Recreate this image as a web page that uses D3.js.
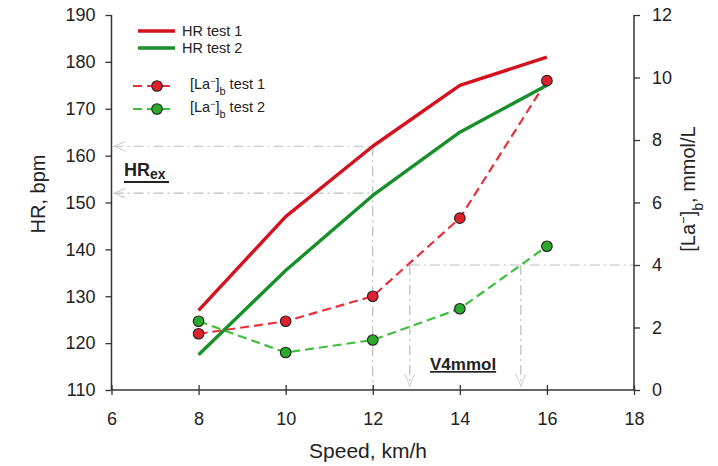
<!DOCTYPE html>
<html>
<head>
<meta charset="utf-8">
<script src="https://cdn.jsdelivr.net/npm/d3@7"></script>
<style>
  html, body { margin: 0; padding: 0; background: #fff; }
  svg { display: block; font-family: "Liberation Sans", Arial, sans-serif; }
</style>
</head>
<body>
<svg id="chart" width="718" height="466"></svg>
<script>
// Running speeds (km/h)
const speeds = [8, 10, 12, 14, 16];
// Heart rate (bpm)
const hrTest1 = [127, 147, 162, 175, 181];
const hrTest2 = [117.5, 135.5, 151.5, 165, 175];
// Blood lactate (mmol/L)
const laTest1 = [1.8, 2.2, 3.0, 5.5, 9.9];
const laTest2 = [2.2, 1.2, 1.6, 2.6, 4.6];
// Axis ticks
const xTicks = [6, 8, 10, 12, 14, 16, 18];
const hrTicks = [110, 120, 130, 140, 150, 160, 170, 180, 190];
const laTicks = [0, 2, 4, 6, 8, 10, 12];
// Reference markers
const hrExLevels = [162, 152];
const hrExSpeed = 12;
const v4Level = 4;
const v4Speeds = [12.85, 15.4];

const svg = d3.select("#chart");
const L = 111.5, R = 634, T = 15, B = 390;

const x = d3.scaleLinear().domain([6, 18]).range([L, R]);
const yHR = d3.scaleLinear().domain([110, 190]).range([B, T]);
const yLa = d3.scaleLinear().domain([0, 12]).range([B, T]);

const axisColor = "#333";
const tickFont = 18;

// Reference guide lines (grey dash-dot)
const guide = svg.append("g").attr("stroke", "#bdbdbd").attr("stroke-width", 1.2).attr("fill", "none");
hrExLevels.forEach(v => {
  guide.append("line")
    .attr("x1", x(6) + 2).attr("x2", x(hrExSpeed))
    .attr("y1", yHR(v)).attr("y2", yHR(v))
    .attr("stroke-dasharray", "10,4,2,4");
  // small arrow head at the axis end
  guide.append("path")
    .attr("d", `M${x(6) + 14},${yHR(v) - 5} L${x(6) + 3},${yHR(v)} L${x(6) + 14},${yHR(v) + 5}`)
    .attr("stroke", "#d0d0d0");
});
guide.append("line")
  .attr("x1", x(hrExSpeed)).attr("x2", x(hrExSpeed))
  .attr("y1", yHR(hrExLevels[0])).attr("y2", B)
  .attr("stroke-dasharray", "10,4,2,4");

guide.append("line")
  .attr("x1", x(v4Speeds[0])).attr("x2", R)
  .attr("y1", yLa(v4Level)).attr("y2", yLa(v4Level))
  .attr("stroke-dasharray", "10,4,2,4");
v4Speeds.forEach(s => {
  guide.append("line")
    .attr("x1", x(s)).attr("x2", x(s))
    .attr("y1", yLa(v4Level)).attr("y2", B - 3)
    .attr("stroke-dasharray", "10,4,2,4");
  guide.append("path")
    .attr("d", `M${x(s) - 5},${B - 16} L${x(s)},${B - 4} L${x(s) + 5},${B - 16}`)
    .attr("stroke", "#d8d8d8");
});

// Axes
const xAxis = svg.append("g").attr("transform", `translate(0,${B})`)
  .call(d3.axisBottom(x).tickValues(xTicks).tickSize(5).tickPadding(17).tickFormat(d3.format("d")));
xAxis.selectAll(".tick line").attr("y1", -5);
const yAxisL = svg.append("g").attr("transform", `translate(${L},0)`)
  .call(d3.axisLeft(yHR).tickValues(hrTicks).tickSize(6).tickPadding(10));
const yAxisR = svg.append("g").attr("transform", `translate(${R},0)`)
  .call(d3.axisRight(yLa).tickValues(laTicks).tickSize(6).tickPadding(12));

[xAxis, yAxisL, yAxisR].forEach(g => {
  g.selectAll(".tick line").attr("stroke", axisColor).attr("stroke-width", 1.3);
  g.selectAll(".tick text").attr("font-size", tickFont).attr("fill", "#222")
    .attr("font-family", "'Liberation Sans', Arial, sans-serif");
});
// plain domain lines without end caps
xAxis.select(".domain").attr("stroke", axisColor).attr("stroke-width", 1.5).attr("d", `M${L},0H${R}`);
yAxisL.select(".domain").attr("stroke", axisColor).attr("stroke-width", 1.5).attr("d", `M0,${T}V${B}`);
yAxisR.select(".domain").attr("stroke", axisColor).attr("stroke-width", 1.5).attr("d", `M0,${T}V${B}`);

// Axis titles
svg.append("text").attr("x", 368).attr("y", 458)
  .attr("text-anchor", "middle").attr("font-size", 21).attr("fill", "#222")
  .text("Speed, km/h");
svg.append("text").attr("transform", `translate(45,194) rotate(-90)`)
  .attr("text-anchor", "middle").attr("font-size", 20).attr("fill", "#222")
  .text("HR, bpm");
const rLab = svg.append("text").attr("transform", `translate(695,189) rotate(-90)`)
  .attr("text-anchor", "middle").attr("font-size", 20).attr("fill", "#222");
rLab.append("tspan").text("[La");
rLab.append("tspan").attr("baseline-shift", "super").attr("font-size", 13).text("−");
rLab.append("tspan").text("]");
rLab.append("tspan").attr("baseline-shift", "sub").attr("font-size", 14).text("b");
rLab.append("tspan").text(", mmol/L");

// Annotation labels
const hrex = svg.append("text").attr("x", 124).attr("y", 176)
  .attr("font-size", 18).attr("font-weight", "bold").attr("fill", "#222");
hrex.append("tspan").text("HR");
hrex.append("tspan").attr("font-size", 14).attr("dy", 3).text("ex");
svg.append("line").attr("x1", 124).attr("x2", 169).attr("y1", 182).attr("y2", 182)
  .attr("stroke", "#222").attr("stroke-width", 2);

svg.append("text").attr("x", 430).attr("y", 370)
  .attr("font-size", 17).attr("font-weight", "bold").attr("fill", "#222")
  .attr("text-decoration", "underline")
  .text("V4mmol");

// Data lines
const lineFor = yS => d3.line().x((d, i) => x(speeds[i])).y(d => yS(d));

const series = [
  { values: laTest1, scale: yLa, color: "#e8303c", fill: "#e0202c", dashed: true },
  { values: laTest2, scale: yLa, color: "#3cbf3c", fill: "#2aaa2a", dashed: true },
  { values: hrTest1, scale: yHR, color: "#d4111e", dashed: false },
  { values: hrTest2, scale: yHR, color: "#17902a", dashed: false }
];

series.forEach(s => {
  svg.append("path").datum(s.values)
    .attr("d", lineFor(s.scale))
    .attr("fill", "none").attr("stroke", s.color)
    .attr("stroke-width", s.dashed ? 2.2 : 3.4)
    .attr("stroke-dasharray", s.dashed ? "9,5" : null)
    .attr("stroke-linejoin", "round");
});
series.filter(s => s.dashed).forEach(s => {
  svg.append("g").selectAll("circle").data(s.values).join("circle")
    .attr("cx", (d, i) => x(speeds[i])).attr("cy", d => s.scale(d))
    .attr("r", 5.3).attr("fill", s.fill).attr("stroke", "#222").attr("stroke-width", 1.1);
});

// Legend
const legend = svg.append("g").attr("font-size", 14.5).attr("fill", "#222");
const legItems = [
  { label: ["HR test 1"], color: "#d4111e", y: 31, marker: false },
  { label: ["HR test 2"], color: "#17902a", y: 48, marker: false },
  { label: ["[La", "−", "]", "b", " test 1"], color: "#e8303c", fill: "#e0202c", y: 86, marker: true },
  { label: ["[La", "−", "]", "b", " test 2"], color: "#3cbf3c", fill: "#2aaa2a", y: 109, marker: true }
];
legItems.forEach(it => {
  if (!it.marker) {
    legend.append("line").attr("x1", 138).attr("x2", 175).attr("y1", it.y).attr("y2", it.y)
      .attr("stroke", it.color).attr("stroke-width", 3.4);
    legend.append("text").attr("x", 182).attr("y", it.y + 5).text(it.label[0]);
  } else {
    legend.append("line").attr("x1", 133).attr("x2", 175).attr("y1", it.y).attr("y2", it.y)
      .attr("stroke", it.color).attr("stroke-width", 2.2).attr("stroke-dasharray", "9,5");
    legend.append("circle").attr("cx", 157).attr("cy", it.y).attr("r", 5.3)
      .attr("fill", it.fill).attr("stroke", "#222").attr("stroke-width", 1.1);
    const t = legend.append("text").attr("x", 190).attr("y", it.y + 3);
    t.append("tspan").text(it.label[0]);
    t.append("tspan").attr("baseline-shift", "super").attr("font-size", 9).text(it.label[1]);
    t.append("tspan").text(it.label[2]);
    t.append("tspan").attr("baseline-shift", "sub").attr("font-size", 11).text(it.label[3]);
    t.append("tspan").text(it.label[4]);
  }
});
</script>
</body>
</html>
